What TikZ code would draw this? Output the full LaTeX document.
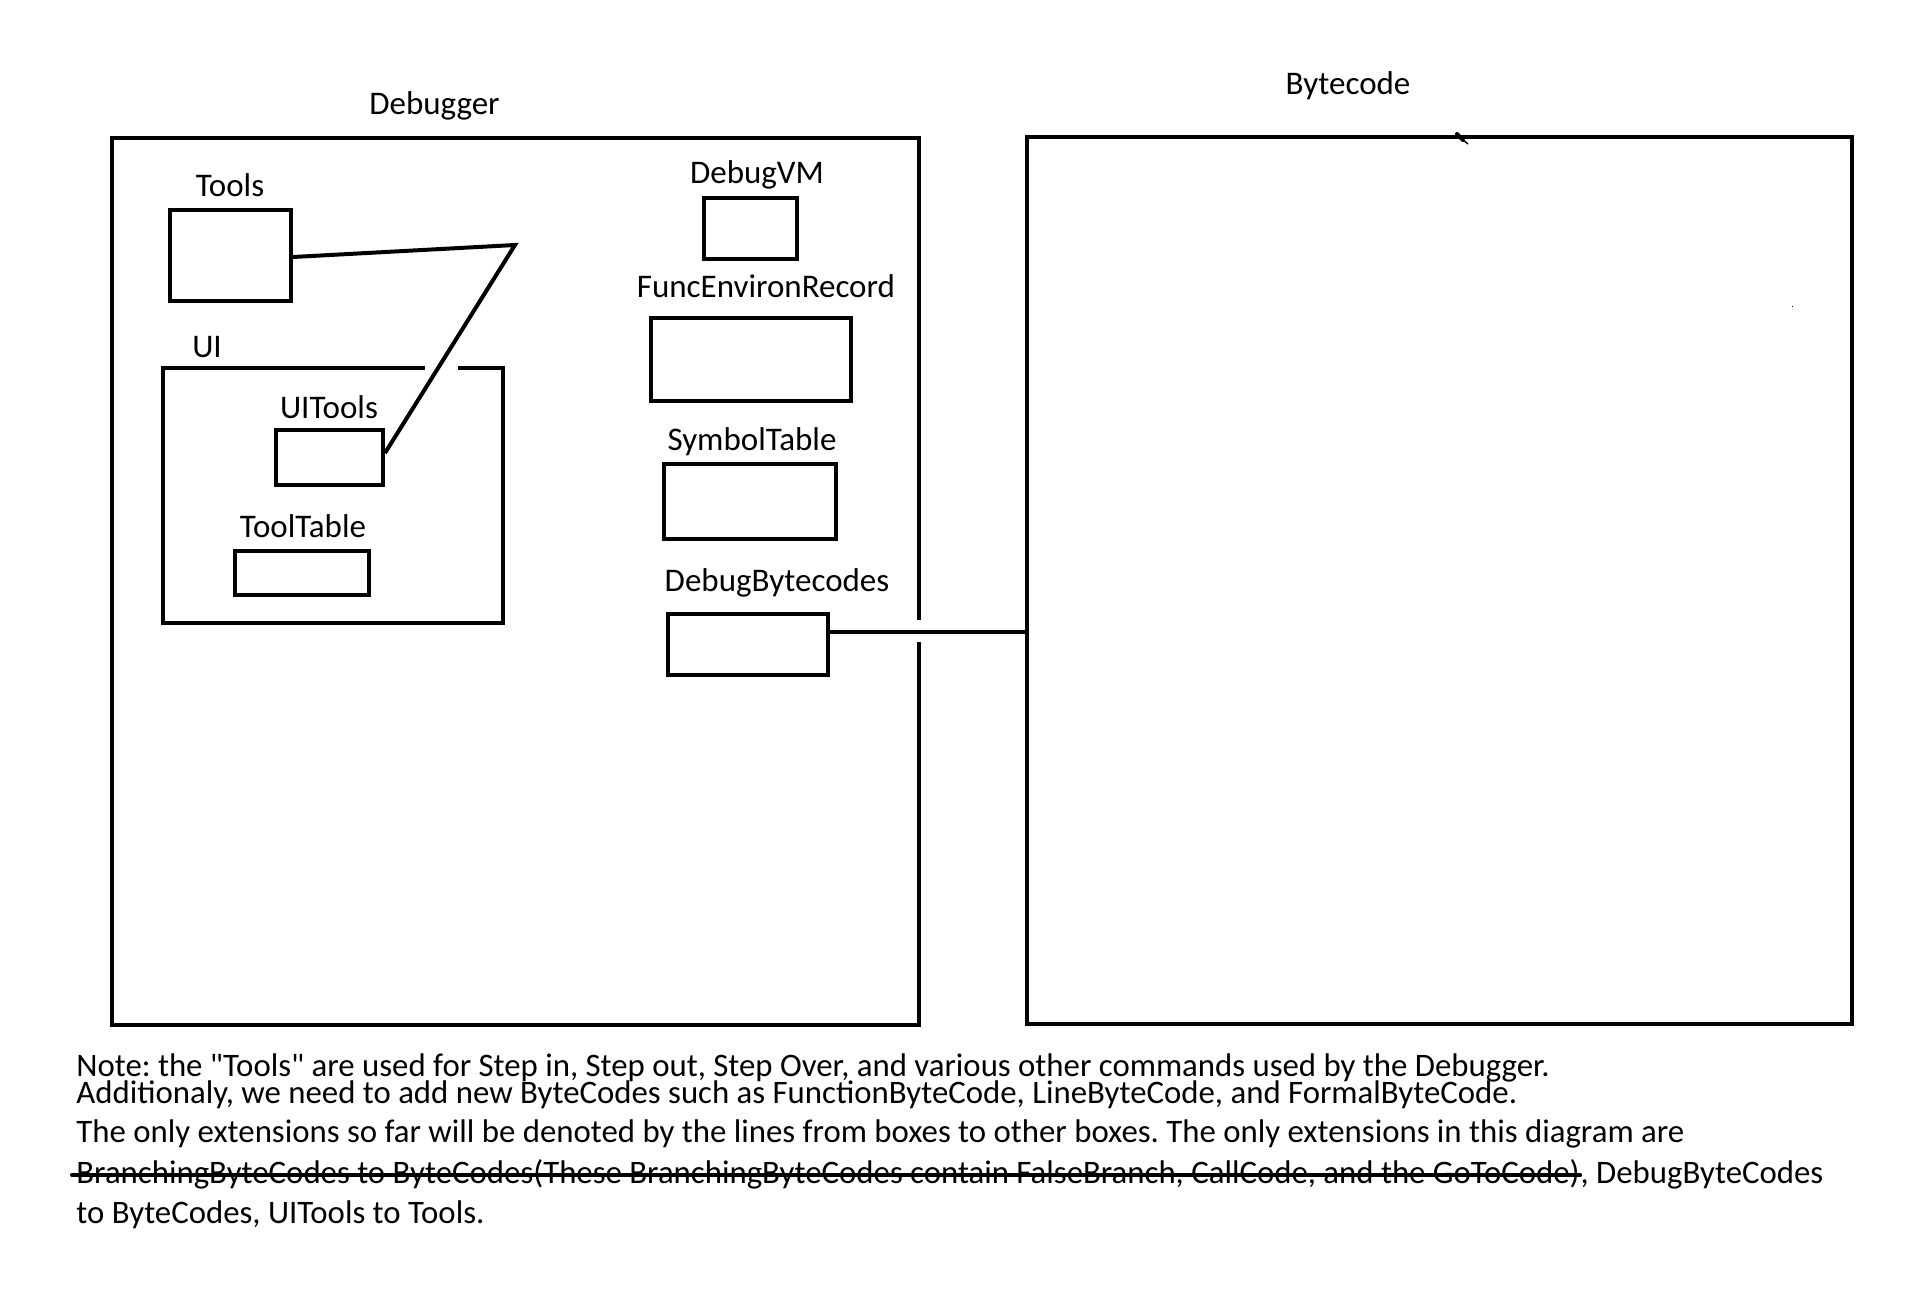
\documentclass[tikz,border=0pt]{standalone}
\usepackage{fontspec}
\setmainfont{Carlito}
\frenchspacing
\begin{document}
\begin{tikzpicture}[x=0.5pt,y=-0.5pt,
  box/.style={draw, line width=2pt, inner sep=0pt, fill=none},
  lbl/.style={anchor=base, inner sep=0pt, font=\fontsize{16.5}{19}\selectfont},
  note/.style={anchor=base west, inner sep=0pt, font=\fontsize{16.4}{19}\selectfont},
  conn/.style={line width=2pt, line join=miter},
  gap/.style={fill=white}]
\useasboundingbox (0,0) rectangle (1920,1304);
\fill[white] (0,0) rectangle (1920,1304);

% outer boxes
\node[box, minimum width=403.5pt, minimum height=443.5pt] (debugger) at (515.5,581.5) {};
\node[box, minimum width=412.5pt, minimum height=443.5pt] (bytecode) at (1439.5,580.5) {};
\node[lbl] (debuggerlbl) at (434.5,115) {Debugger};
\node[lbl] (bytecodelbl) at (1348,95) {Bytecode};

% left group
\node[box, minimum width=60.5pt, minimum height=45.5pt] (tools) at (230.5,255.5) {};
\node[lbl] (toolslbl) at (230,197) {Tools};
\node[box, minimum width=170pt, minimum height=127.5pt] (ui) at (333,495.5) {};
\node[lbl] (uilbl) at (207,358) {UI};
\node[box, minimum width=53.5pt, minimum height=27.5pt] (uitools) at (329.5,457.5) {};
\node[lbl] (uitoolslbl) at (329,419) {UITools};
\node[box, minimum width=67pt, minimum height=22pt] (tooltable) at (302,573) {};
\node[lbl] (tooltablelbl) at (303,537) {ToolTable};

% right group inside debugger
\node[box, minimum width=46.5pt, minimum height=30.5pt] (debugvm) at (750.5,228.5) {};
\node[lbl] (debugvmlbl) at (757,184) {DebugVM};
\node[box, minimum width=100pt, minimum height=41.5pt] (fer) at (751,359.5) {};
\node[lbl] (ferlbl) at (766,298) {FuncEnvironRecord};
\node[box, minimum width=86pt, minimum height=37.5pt] (symtab) at (750,501.5) {};
\node[lbl] (symtablbl) at (752,451) {SymbolTable};
\node[box, minimum width=80pt, minimum height=30.5pt] (dbc) at (748,644.5) {};
\node[lbl] (dbclbl) at (777,591) {DebugBytecodes};

% gaps in borders
\fill[gap] (425,363) rectangle (458,373);
\fill[gap] (914,620) rectangle (924,642);

% connectors
\coordinate (bend) at (515,245);
\draw[conn] ([yshift=-0.75pt]tools.east) -- (bend) -- ([yshift=2.25pt]uitools.east);
\draw[conn] ([yshift=6.25pt]dbc.east) -- ([yshift=6.25pt]dbc.east -| bytecode.west);

% stray marks
\draw[line width=2pt, line cap=round] (1457,134) -- (1463,140);
\draw[line width=0.7pt] (1463,140) -- (1468,144);
\fill[black] (1791.5,306.5) rectangle (1792.5,307.5);

% note text
\node[note] (n1) at (76,1076) {Note: the \textquotedbl Tools\textquotedbl{} are used for Step in, Step out, Step Over, and various other commands used by the Debugger.};
\node[note] (n2) at (76,1103) {Additionaly, we need to add new ByteCodes such as FunctionByteCode, LineByteCode, and FormalByteCode.};
\node[note] (n3) at (76,1142) {The only extensions so far will be denoted by the lines from boxes to other boxes. The only extensions in this diagram are};
\node[note] (n4a) at (76,1183) {BranchingByteCodes to ByteCodes(These BranchingByteCodes contain FalseBranch, CallCode, and the GoToCode)};
\node[note] (n4b) at (n4a.base east) {, DebugByteCodes};
\node[note] (n5) at (76,1223) {to ByteCodes, UITools to Tools.};
\coordinate (strikeA) at (72,1175);
\draw[line width=2pt, line cap=round] (strikeA) -- (strikeA -| n4a.east);
\end{tikzpicture}
\end{document}
